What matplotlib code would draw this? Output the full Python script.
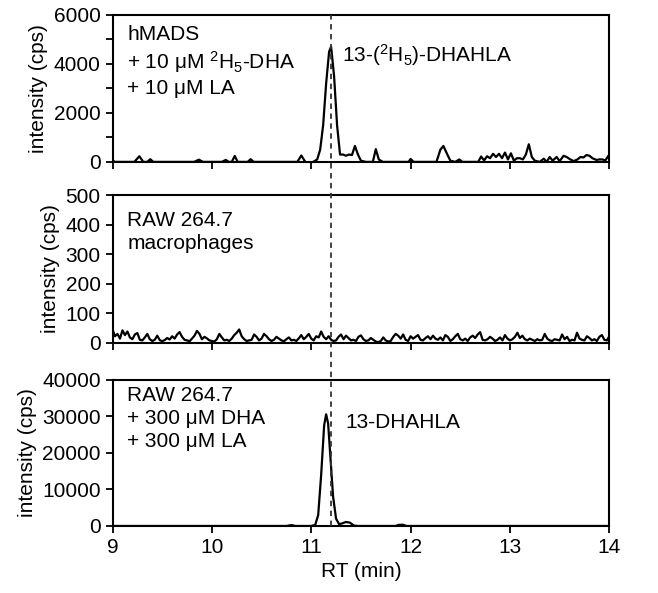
import numpy as np
import matplotlib
matplotlib.use('Agg')
import matplotlib.pyplot as plt
from matplotlib.lines import Line2D
from matplotlib.ticker import MultipleLocator
import matplotlib.transforms as mtransforms

plt.rcParams['font.family'] = ['Liberation Sans', 'DejaVu Sans']
plt.rcParams['mathtext.fontset'] = 'custom'
plt.rcParams['mathtext.rm'] = 'Liberation Sans'
plt.rcParams['mathtext.default'] = 'regular'
plt.rcParams['font.size'] = 15

# hMADS + 2H5-DHA + LA
top_rt = [9.00, 9.02, 9.22, 9.27, 9.31, 9.35, 9.38, 9.41, 9.82, 9.87, 9.91,
          10.10, 10.14, 10.17, 10.20, 10.23, 10.26, 10.36, 10.39, 10.42,
          10.86, 10.90, 10.94, 10.98, 11.02, 11.06, 11.09, 11.12, 11.15,
          11.18, 11.20, 11.23, 11.26, 11.29, 11.32, 11.35, 11.38, 11.41,
          11.44, 11.47, 11.50, 11.55, 11.62, 11.65, 11.68, 11.72, 11.98,
          12.00, 12.03, 12.26, 12.30, 12.33, 12.37, 12.40, 12.45, 12.49,
          12.52, 12.68, 12.71, 12.74, 12.77, 12.80, 12.83, 12.86, 12.89,
          12.92, 12.95, 12.98, 13.01, 13.04, 13.07, 13.10, 13.13, 13.16,
          13.19, 13.22, 13.25, 13.30, 13.34, 13.37, 13.40, 13.43, 13.47,
          13.50, 13.54, 13.57, 13.60, 13.64, 13.68, 13.71, 13.74, 13.77,
          13.80, 13.83, 13.87, 13.90, 13.93, 13.96, 14.00]
top_cps = [80, 0, 0, 230, 0, 0, 110, 0, 0, 90, 0,
           0, 80, 0, 0, 240, 0, 0, 110, 0,
           0, 260, 0, -80, 0, 100, 500, 1500, 3200,
           4500, 4700, 3500, 1500, 300, 300, 250, 300, 280,
           650, 300, 50, 0, 0, 520, 100, 0, 0,
           120, 0, 0, 500, 650, 300, 50, 0, 100,
           0, 0, 220, 60, 230, 150, 330, 200, 330,
           150, 380, 100, 350, 50, 150, 150, 100, 300,
           720, 200, 50, 0, 130, 0, 200, 50, 200,
           30, 250, 200, 120, 30, 100, 200, 180, 280,
           250, 150, 80, 100, 100, 60, 300]

# RAW 264.7 macrophages (blank), one scan every 0.025 min
mid_cps = [45, 22, 30, 14, 42, 26, 38, 18, 12, 28, 33, 10, 8, 18, 30, 12, 6, 10, 24, 9,
           5, 9, 16, 11, 22, 14, 28, 36, 20, 10, 8, 5, 14, 24, 40, 30, 12, 20, 15, 8,
           6, 4, 12, 30, 18, 8, 10, 6, 14, 26, 34, 45, 22, 12, 6, 8, 10, 28, 20, 8,
           14, 30, 22, 12, 6, 10, 20, 14, 8, 5, 12, 18, 8, 10, 6, 15, 26, 12, 20, 30,
           14, 8, 22, 18, 38, 20, 12, 22, 10, 6, 8, 20, 28, 12, 24, 16, 8, 10, 6, 20,
           25, 12, 6, 8, 16, 10, 4, 2, 6, 18, 8, 4, 6, 20, 30, 24, 14, 28, 10, 6,
           22, 14, 20, 26, 10, 8, 16, 22, 12, 24, 14, 10, 18, 8, 26, 20, 6, 12, 22, 30,
           12, 8, 14, 6, 18, 24, 16, 28, 36, 10, 8, 12, 20, 14, 6, 10, 18, 8, 26, 14,
           8, 12, 20, 34, 16, 24, 12, 8, 14, 10, 6, 12, 8, 10, 30, 14, 8, 6, 12, 10,
           8, 28, 12, 20, 6, 10, 8, 34, 14, 10, 8, 22, 16, 8, 12, 6, 20, 26, 10, 8,
           22]
mid_rt = np.linspace(9, 14, len(mid_cps))

# RAW 264.7 + DHA + LA
bot_rt = [9.00, 10.75, 10.80, 10.84, 11.00, 11.04, 11.07, 11.10, 11.13,
          11.15, 11.17, 11.19, 11.22, 11.25, 11.28, 11.31, 11.35, 11.39,
          11.43, 11.47, 11.85, 11.88, 11.92, 11.96, 14.00]
bot_cps = [0, 0, 250, 0, 0, 300, 3000, 14000, 27500,
           30500, 28000, 20000, 8000, 2000, 500, 700, 1100, 900,
           100, 0, 0, 300, 350, 0, 0]

peak_rt = 11.2

fig = plt.figure(figsize=(6.58, 5.93), dpi=100)
ax1 = fig.add_axes([0.171, 0.727, 0.755, 0.248])
ax2 = fig.add_axes([0.171, 0.422, 0.755, 0.249], sharex=ax1)
ax3 = fig.add_axes([0.171, 0.113, 0.755, 0.247], sharex=ax1)

ax1.plot(top_rt, top_cps, color='k', lw=1.6)
ax2.plot(mid_rt, mid_cps, color='k', lw=1.6)
ax3.plot(bot_rt, bot_cps, color='k', lw=1.6)

ax1.set_ylim(0, 6000)
ax1.yaxis.set_major_locator(MultipleLocator(2000))
ax1.yaxis.set_minor_locator(MultipleLocator(1000))
ax2.set_ylim(0, 500)
ax2.yaxis.set_major_locator(MultipleLocator(100))
ax3.set_ylim(0, 40000)
ax3.yaxis.set_major_locator(MultipleLocator(10000))
ax3.set_xlim(9, 14)
ax3.xaxis.set_major_locator(MultipleLocator(1))

for ax in (ax1, ax2, ax3):
    ax.set_ylabel('intensity (cps)', fontsize=15)
    ax.tick_params(which='both', direction='out', length=5, width=1.3)
    for s in ax.spines.values():
        s.set_linewidth(1.5)
for ax in (ax1, ax2):
    ax.tick_params(axis='x', labelbottom=False)

ax3.set_xlabel('RT (min)', fontsize=15)

ax1.text(0.03, 0.93, 'hMADS\n+ 10 \u03bcM $^{2}$H$_{5}$-DHA\n+ 10 \u03bcM LA',
         transform=ax1.transAxes, va='top', ha='left', linespacing=1.25)
ax1.text(11.31, 4350, '13-($^{2}$H$_{5}$)-DHAHLA', va='center', ha='left')
ax2.text(0.03, 0.89, 'RAW 264.7\nmacrophages', transform=ax2.transAxes,
         va='top', ha='left', linespacing=1.25)
ax3.text(0.03, 0.955, 'RAW 264.7\n+ 300 \u03bcM DHA\n+ 300 \u03bcM LA',
         transform=ax3.transAxes, va='top', ha='left', linespacing=1.25)
ax3.text(11.34, 28200, '13-DHAHLA', va='center', ha='left')

# dashed marker through all three panels
trans = mtransforms.blended_transform_factory(ax3.transData, fig.transFigure)
fig.add_artist(Line2D([peak_rt, peak_rt], [0.113, 0.975], transform=trans,
                      color='#333333', lw=1.3, linestyle=(0, (3, 2.5)), zorder=5))

fig.savefig('out.png', dpi=100)
